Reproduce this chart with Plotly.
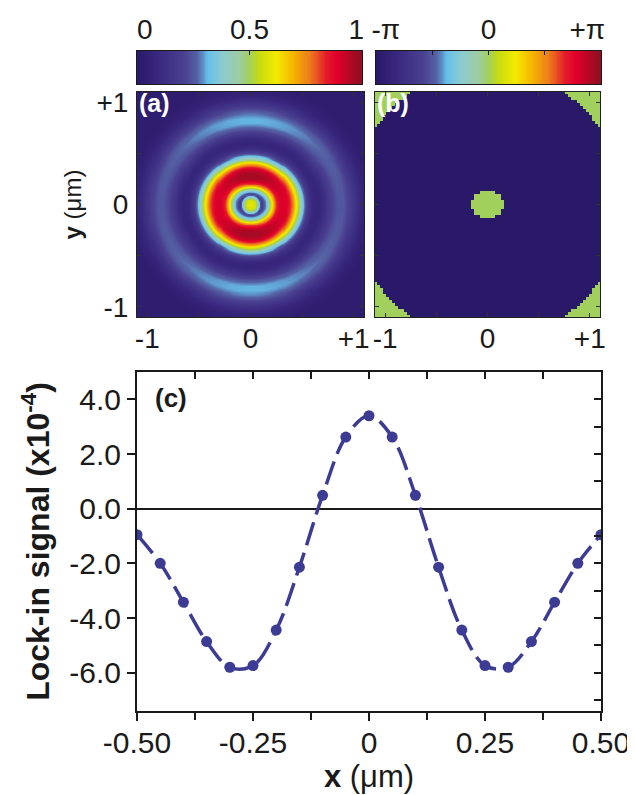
import numpy as np
import plotly.graph_objects as go

# ---------------- data ----------------
# (c) lock-in signal line scan
x_um = [-0.50, -0.45, -0.40, -0.35, -0.30, -0.25, -0.20, -0.15, -0.10, -0.05, 0.00,
        0.05, 0.10, 0.15, 0.20, 0.25, 0.30, 0.35, 0.40, 0.45, 0.50]
lockin = [-0.95, -2.00, -3.42, -4.86, -5.80, -5.74, -4.44, -2.14, 0.49, 2.62, 3.40,
          2.62, 0.49, -2.14, -4.44, -5.74, -5.80, -4.86, -3.42, -2.00, -0.95]
lockin_tickvals = [-6, -4, -2, 0, 2, 4]
lockin_ticktext = ["-6.0", "-4.0", "-2.0", "0.0", "2.0", "4.0"]
scan_tickvals = [-0.5, -0.25, 0, 0.25, 0.5]
scan_ticktext = ["-0.50", "-0.25", "0", "0.25", "0.50"]

# (a) normalised intensity, radial profiles along x and along y
radius_um = [0.00, 0.05, 0.10, 0.15, 0.20, 0.25, 0.30, 0.35, 0.40, 0.45, 0.50,
             0.55, 0.60, 0.65, 0.70, 0.75, 0.80, 0.85, 0.90, 0.95, 1.00,
             1.05, 1.10, 1.15, 1.20, 1.25, 1.30, 1.35, 1.40, 1.45, 1.50, 1.55, 1.60]
intensity_x = [0.60, 0.55, 0.18, 0.30, 0.58, 0.84, 0.90, 0.89, 0.78, 0.57, 0.35,
               0.18, 0.09, 0.07, 0.11, 0.17, 0.22, 0.25, 0.25, 0.21, 0.15,
               0.10, 0.06, 0.04, 0.03, 0.03, 0.03, 0.03, 0.03, 0.03, 0.03, 0.03, 0.03]
intensity_y = [0.60, 0.55, 0.20, 0.45, 0.82, 0.96, 0.97, 0.92, 0.72, 0.42, 0.22,
               0.10, 0.07, 0.10, 0.18, 0.26, 0.31, 0.31, 0.27, 0.20, 0.13,
               0.08, 0.05, 0.04, 0.03, 0.03, 0.03, 0.03, 0.03, 0.03, 0.03, 0.03, 0.03]

# (b) phase map: central zone half-widths, corner zone radius (um), phase values (rad)
phase_center_rx = 0.165
phase_center_ry = 0.135
phase_corner_radius = 1.33
phase_zone_values = [0.0, -np.pi, 0.0]   # centre, middle, corners

map_tickvals = [-1, 0, 1]
map_ticktext = ["-1", "0", "+1"]
map_minor_ticks = [-0.5, 0.5]
amp_cb_text = ["0", "0.5", "1"]
phase_cb_text = ["-π", "0", "+π"]

# ---------------- styling ----------------
colorscale = [
    [0.00, "#2a1868"], [0.10, "#3a2a80"], [0.21, "#4a4090"], [0.27, "#5563a5"],
    [0.316, "#66c0ea"], [0.38, "#8ccbd0"], [0.457, "#9ecda0"], [0.50, "#a2d05c"],
    [0.546, "#c8dc10"], [0.62, "#f4ea00"], [0.69, "#f5b800"], [0.77, "#ec7a1c"],
    [0.84, "#e41c2c"], [0.89, "#e0002a"], [1.00, "#8a1020"],
]
W, H = 635, 795
ML, MR, MT, MB = 129, 42, 43, 92
PW, PH = W - ML - MR, H - MT - MB


def px(x0, x1):
    return [(x0 - ML) / PW, (x1 - ML) / PW]


def py(top, bottom):
    return [(H - MB - bottom) / PH, (H - MB - top) / PH]


FONT = "Liberation Sans, Arial, sans-serif"
ink = "#1a1a1a"
line_col = "#3c3c94"

fig = go.Figure()

# colour bars drawn as heatmaps
grad = np.linspace(0, 1, 256)
fig.add_trace(go.Heatmap(x=grad, y=[0], z=[grad], colorscale=colorscale, zmin=0, zmax=1,
                         showscale=False, xaxis="x", yaxis="y", hoverinfo="skip"))
gphase = np.linspace(-np.pi, np.pi, 256)
fig.add_trace(go.Heatmap(x=gphase, y=[0], z=[gphase], colorscale=colorscale,
                         zmin=-np.pi, zmax=np.pi, showscale=False, xaxis="x2", yaxis="y2",
                         hoverinfo="skip"))

# (a) intensity map
g = np.linspace(-1.1, 1.1, 111)
GX, GY = np.meshgrid(g, g)
R = np.hypot(GX, GY)
c2 = np.where(R > 0, (GX / np.where(R > 0, R, 1)) ** 2, 0.5)
Z_a = c2 * np.interp(R, radius_um, intensity_x) + (1 - c2) * np.interp(R, radius_um, intensity_y)
fig.add_trace(go.Heatmap(x=g, y=g, z=Z_a, colorscale=colorscale, zmin=0, zmax=1,
                         showscale=False, zsmooth="best", xaxis="x3", yaxis="y3",
                         hoverinfo="skip"))

# (b) phase map
gb = np.linspace(-1.1, 1.1, 75)
BX, BY = np.meshgrid(gb, gb)
RB = np.hypot(BX, BY)
inner = (BX / phase_center_rx) ** 2 + (BY / phase_center_ry) ** 2 < 1
Z_b = np.where(inner, phase_zone_values[0],
               np.where(RB > phase_corner_radius, phase_zone_values[2], phase_zone_values[1]))
fig.add_trace(go.Heatmap(x=gb, y=gb, z=Z_b, colorscale=colorscale, zmin=-np.pi, zmax=np.pi,
                         showscale=False, zsmooth=False, xaxis="x4", yaxis="y4",
                         hoverinfo="skip"))

# (c) lock-in signal
fig.add_trace(go.Scatter(x=x_um, y=lockin, mode="lines+markers", xaxis="x5", yaxis="y5",
                         line=dict(shape="spline", smoothing=1.0, dash="24px,8px", width=3.5,
                                   color=line_col),
                         marker=dict(size=11, color=line_col), showlegend=False))
# carrier for the mirrored (inside-tick) top / right axes
fig.add_trace(go.Scatter(x=x_um, y=lockin, mode="markers", xaxis="x6", yaxis="y6",
                         marker=dict(size=1, opacity=0), showlegend=False, hoverinfo="skip"))

tickfont_small = dict(family=FONT, size=28, color=ink)
tickfont_big = dict(family=FONT, size=30, color=ink)

cb_y = py(43, 76)
panel_y = py(84, 309)
c_x = px(129, 593)
c_y = py(364, 703)
c_range = [-7.4, 5.0]


def map_axis(domain, anchor, labels=True, title=None, standoff=0):
    d = dict(domain=domain, anchor=anchor, range=[-1.1, 1.1], tickvals=map_tickvals,
             ticks="inside", ticklen=4, tickcolor="#333", tickfont=tickfont_small,
             showticklabels=labels, ticklabelstandoff=standoff,
             minor=dict(tickmode="array", tickvals=map_minor_ticks, ticks="inside",
                        ticklen=4, tickcolor="#333"),
             showline=True, linecolor="#222", linewidth=1, mirror="ticks",
             showgrid=False, zeroline=False, automargin=False)
    if labels:
        d["ticktext"] = map_ticktext
    if title:
        d["title"] = title
    return d


layout = dict(
    width=W, height=H, autosize=False,
    margin=dict(l=ML, r=MR, t=MT, b=MB),
    paper_bgcolor="white", plot_bgcolor="white", showlegend=False,
    font=dict(family=FONT, color=ink),
    # colour bar (a)
    xaxis=dict(domain=px(129, 354), anchor="y", range=[0, 1], side="top",
               tickvals=[0.035, 0.5, 0.975], ticktext=amp_cb_text, ticks="",
               tickfont=tickfont_small, showline=True, linecolor=ink, linewidth=1, mirror=True,
               minor=dict(tickmode="array", tickvals=[0.5], ticks="inside", ticklen=4,
                          tickcolor=ink),
               showgrid=False, zeroline=False, automargin=False),
    yaxis=dict(domain=cb_y, anchor="x", range=[-0.5, 0.5], showticklabels=False, ticks="",
               showline=True, linecolor=ink, linewidth=1, mirror=True, showgrid=False,
               zeroline=False, automargin=False),
    # colour bar (b)
    xaxis2=dict(domain=px(368, 593), anchor="y2", range=[-np.pi, np.pi], side="top",
                tickvals=[-2.87, 0, 2.76], ticktext=phase_cb_text, ticks="",
                tickfont=tickfont_small, showline=True, linecolor=ink, linewidth=1, mirror=True,
                minor=dict(tickmode="array", tickvals=[-np.pi / 2, 0, np.pi / 2],
                           ticks="inside", ticklen=4, tickcolor=ink),
                showgrid=False, zeroline=False, automargin=False),
    yaxis2=dict(domain=cb_y, anchor="x2", range=[-0.5, 0.5], showticklabels=False, ticks="",
                showline=True, linecolor=ink, linewidth=1, mirror=True, showgrid=False,
                zeroline=False, automargin=False),
    # panel (a)
    xaxis3=map_axis(px(129, 356), "y3", standoff=-4),
    yaxis3=map_axis(panel_y, "x3", standoff=2,
                    title=dict(text="<b>y</b> (μm)", font=dict(family=FONT, size=24, color=ink),
                               standoff=8)),
    # panel (b)
    xaxis4=map_axis(px(367, 592), "y4", standoff=-4),
    yaxis4=map_axis(panel_y, "x4", labels=False),
    # panel (c)
    xaxis5=dict(domain=c_x, anchor="y5", range=[-0.5, 0.5], tickvals=scan_tickvals,
                ticktext=scan_ticktext, ticks="outside", ticklen=8, tickwidth=1.5,
                tickcolor=ink, tickfont=tickfont_big, showline=True, linecolor=ink,
                linewidth=2, showgrid=False, zeroline=False, automargin=False,
                ticklabelstandoff=-4,
                minor=dict(dtick=0.125, tick0=0, ticks="outside", ticklen=7, tickwidth=1.5,
                           tickcolor=ink),
                title=dict(text="<b>x</b> (μm)", font=dict(family=FONT, size=31, color=ink),
                           standoff=0)),
    yaxis5=dict(domain=c_y, anchor="x5", range=c_range, tickvals=lockin_tickvals,
                ticktext=lockin_ticktext, ticks="outside", ticklen=8, tickwidth=1.5,
                tickcolor=ink, tickfont=tickfont_big, showline=True, linecolor=ink,
                linewidth=2, showgrid=False, zeroline=True, zerolinecolor=ink,
                zerolinewidth=1.5, automargin=False,
                title=dict(text="<b>Lock-in signal (x10<sup>-4</sup>)</b>",
                           font=dict(family=FONT, size=32, color=ink), standoff=10)),
    xaxis6=dict(domain=c_x, anchor="y6", overlaying="x5", side="top",
                range=[-0.5, 0.5], tickvals=scan_tickvals, showticklabels=False,
                ticks="inside", ticklen=7, tickwidth=1.5, tickcolor=ink, showline=True,
                linecolor=ink, linewidth=2, showgrid=False, zeroline=False, automargin=False,
                minor=dict(dtick=0.125, tick0=0, ticks="inside", ticklen=7, tickwidth=1.5,
                           tickcolor=ink)),
    yaxis6=dict(domain=c_y, anchor="x6", overlaying="y5", side="right",
                range=c_range, tickvals=lockin_tickvals, showticklabels=False,
                ticks="inside", ticklen=7, tickwidth=1.5, tickcolor=ink, showline=True,
                linecolor=ink, linewidth=2, showgrid=False, zeroline=False, automargin=False,
                minor=dict(dtick=1, tick0=0, ticks="inside", ticklen=7, tickwidth=1.5,
                           tickcolor=ink)),
    annotations=[
        dict(text="<b>(a)</b>", xref="x3 domain", yref="y3 domain", x=0.0, y=0.95,
             xanchor="left", yanchor="middle", showarrow=False,
             font=dict(family=FONT, size=25, color="white")),
        dict(text="<b>(b)</b>", xref="x4 domain", yref="y4 domain", x=0.0, y=0.95,
             xanchor="left", yanchor="middle", showarrow=False,
             font=dict(family=FONT, size=25, color="white")),
        dict(text="<b>(c)</b>", xref="x5 domain", yref="y5 domain", x=0.035, y=0.922,
             xanchor="left", yanchor="middle", showarrow=False,
             font=dict(family=FONT, size=26, color=ink)),
    ],
)
fig.update_layout(**layout)
fig.write_html("out.html")
